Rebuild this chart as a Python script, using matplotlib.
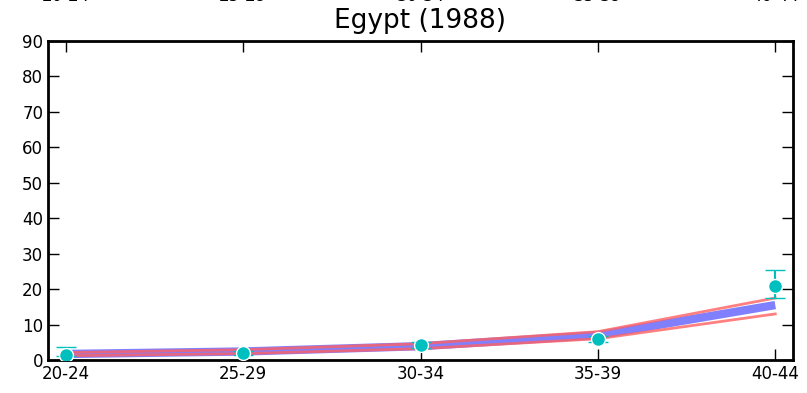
import matplotlib
matplotlib.use("Agg")
import matplotlib.pyplot as plt

# data
age_groups = ["20-24", "25-29", "30-34", "35-39", "40-44"]
observed = [1.5, 2.0, 4.3, 6.0, 21.0]
err_low = [0.5, 0.5, 0.8, 0.8, 3.5]
err_high = [2.2, 0.6, 0.9, 0.9, 4.3]
model_mean = [1.7, 2.4, 3.9, 7.0, 15.5]
model_upper = [2.1, 2.9, 4.6, 8.0, 17.5]
model_lower = [1.2, 1.8, 3.2, 6.0, 13.0]

x = list(range(len(age_groups)))

fig = plt.figure(figsize=(8.07, 3.93), dpi=100)
ax = fig.add_axes([48 / 807, 1 - 360 / 393, 745 / 807, 319 / 393])

ax.plot(x, model_mean, color="#8080ff", lw=6, solid_capstyle="butt", zorder=2)
ax.plot(x, model_upper, color="#ff6060", lw=2, alpha=0.8, zorder=3)
ax.plot(x, model_lower, color="#ff6060", lw=2, alpha=0.8, zorder=3)
ax.errorbar(x, observed, yerr=[err_low, err_high], fmt="o", color="#00bfbf",
            ms=10, mec="white", mew=1, ecolor="#00bfbf", elinewidth=1.5,
            capsize=7, capthick=1.5, zorder=4)

ax.set_xlim(-0.1, 4.1)
ax.set_ylim(0, 90)
ax.set_xticks(x)
ax.set_xticklabels(age_groups)
ax.set_yticks(range(0, 91, 10))
ax.tick_params(direction="in", length=8, width=1, labelsize=12,
               top=True, right=True)
for s in ax.spines.values():
    s.set_linewidth(2)

# top labels pushed up, partly clipped by figure edge like the original
top = ax.secondary_xaxis("top")
top.set_xticks(x)
top.set_xticklabels(age_groups)
top.tick_params(length=0, labelsize=12, pad=26)
top.spines["top"].set_visible(False)

ax.set_title("Egypt (1988)", fontsize=19, y=1.015)

fig.savefig("out.png", dpi=100)
